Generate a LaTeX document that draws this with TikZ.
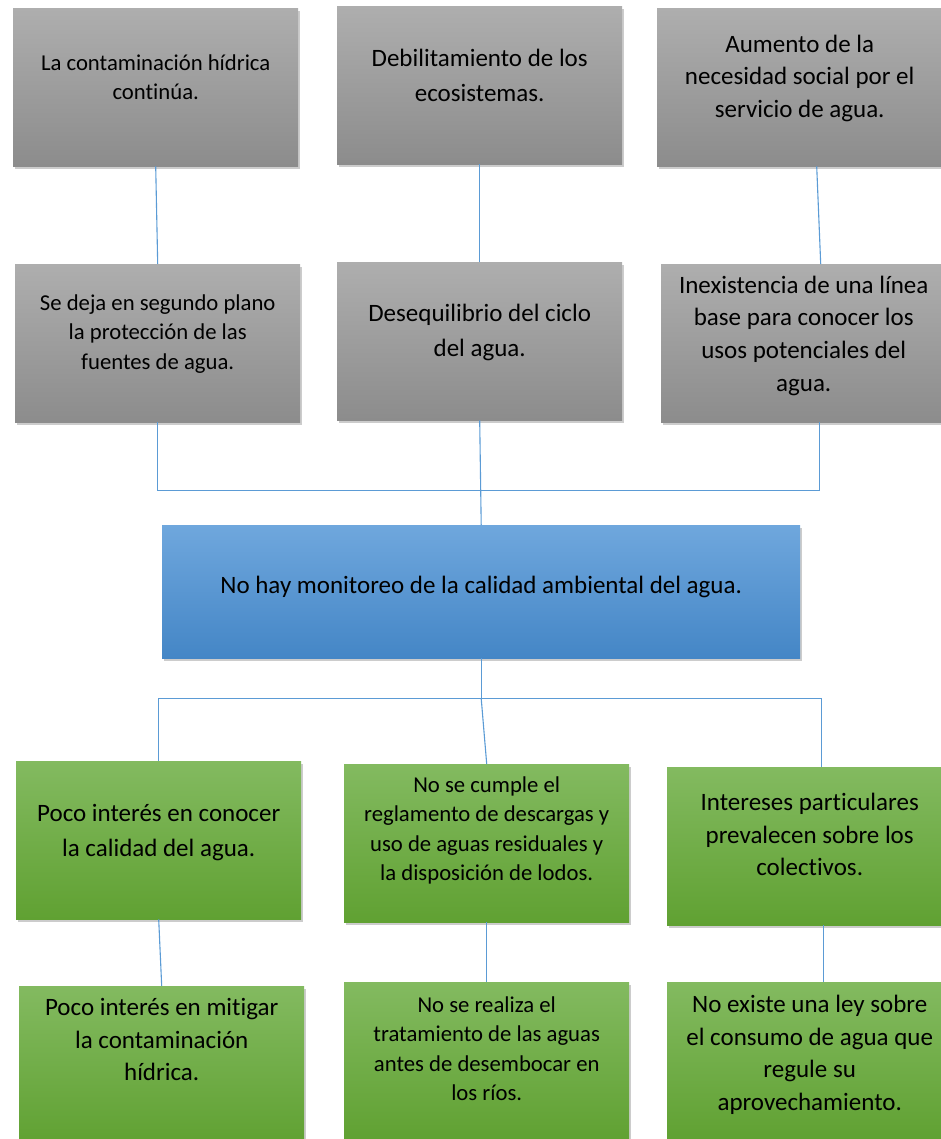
\documentclass[tikz,border=0pt]{standalone}
\usepackage{fontspec}
\setmainfont{Carlito}[Ligatures={NoCommon,NoContextual},Contextuals=NoAlternate]
\usetikzlibrary{shadows}
\definecolor{grisarriba}{HTML}{AEAEAE}
\definecolor{grisabajo}{HTML}{8C8C8C}
\definecolor{azularriba}{HTML}{6FA7DD}
\definecolor{azulabajo}{HTML}{4486C6}
\definecolor{verdearriba}{HTML}{83BA60}
\definecolor{verdeabajo}{HTML}{60A132}
\definecolor{enlaceazul}{HTML}{5B9BD5}
\newcommand{\tchica}{\fontsize{22.7}{29.5}\selectfont}
\newcommand{\tgrande}{\fontsize{25}{32.8}\selectfont}
\newcommand{\tancha}{\fontsize{25}{35}\selectfont}
\begin{document}
\begin{tikzpicture}[x=1pt,y=-1pt,
  caja/.style={anchor=north west,inner sep=0pt,drop shadow={shadow xshift=1.5pt,shadow yshift=-2.5pt,opacity=.4}},
  gris/.style={caja,top color=grisarriba,bottom color=grisabajo},
  azul/.style={caja,top color=azularriba,bottom color=azulabajo},
  verde/.style={caja,top color=verdearriba,bottom color=verdeabajo},
  enlace/.style={draw=enlaceazul,line width=1.1pt}]
\useasboundingbox (0,0) rectangle (940,1139);
\pgfmathsetmacro{\cw}{285}
\pgfmathsetmacro{\ch}{158}
% efectos y causas
\foreach \n/\x/\y/\s/\o/\t in {A1/13/8/\tchica/62/{La contaminación hídrica\\continúa.},
  A2/337/6/\tancha/60/{Debilitamiento de los\\ecosistemas.},
  A3/657/8/\tgrande/44/{Aumento de la\\necesidad social por el\\servicio de agua.},
  B1/15/264/\tchica/46/{Se deja en segundo plano\\la protección de las\\fuentes de agua.},
  B2/337/262/\tancha/59/{Desequilibrio del ciclo\\del agua.},
  B3/661/264/\tgrande/29/{Inexistencia de una línea\\base para conocer los\\usos potenciales del\\agua.}}
  {\node[gris] (\n) at (\x,\y) {\parbox[t][\ch pt][t]{\cw pt}{\centering\s\rule{0pt}{\o pt}\t}};}
\node[azul] (M) at (162,525) {\parbox[t][133pt][t]{638pt}{\centering\tgrande\rule{0pt}{68pt}No hay monitoreo de la calidad ambiental del agua.}};
\foreach \n/\x/\y/\s/\o/\t in {C1/16/761/\tancha/60/{Poco interés en conocer\\la calidad del agua.},
  C2/344/764/\tchica/28/{No se cumple el\\reglamento de descargas y\\uso de aguas residuales y\\la disposición de lodos.},
  C3/667/767/\tgrande/43/{Intereses particulares\\prevalecen sobre los\\colectivos.},
  D1/19/986/\tgrande/29/{Poco interés en mitigar\\la contaminación\\hídrica.},
  D2/344/982/\tchica/30/{No se realiza el\\tratamiento de las aguas\\antes de desembocar en\\los ríos.},
  D3/667/982/\tgrande/30/{No existe una ley sobre\\el consumo de agua que\\regule su\\aprovechamiento.}}
  {\node[verde] (\n) at (\x,\y) {\parbox[t][\ch pt][t]{\cw pt}{\centering\s\rule{0pt}{\o pt}\t}};}
% conectores
\draw[enlace] (A1.south) -- (B1.north);
\draw[enlace] (A2.south) -- (B2.north);
\draw[enlace] ([xshift=17pt]A3.south) -- ([xshift=17pt]B3.north);
\draw[enlace] (B1.south) -- ++(0,68) -| ([xshift=16pt]B3.south);
\draw[enlace] (B2.south) -- (M.north);
\draw[enlace] (M.south) -- ++(0,40) coordinate (bus);
\draw[enlace] (C1.north) |- (bus) -| ([xshift=12pt]C3.north);
\draw[enlace] (bus) -- (C2.north);
\draw[enlace] (C1.south) -- (D1.north);
\draw[enlace] (C2.south) -- (D2.north);
\draw[enlace] ([xshift=14pt]C3.south) -- ([xshift=14pt]D3.north);
\end{tikzpicture}
\end{document}
